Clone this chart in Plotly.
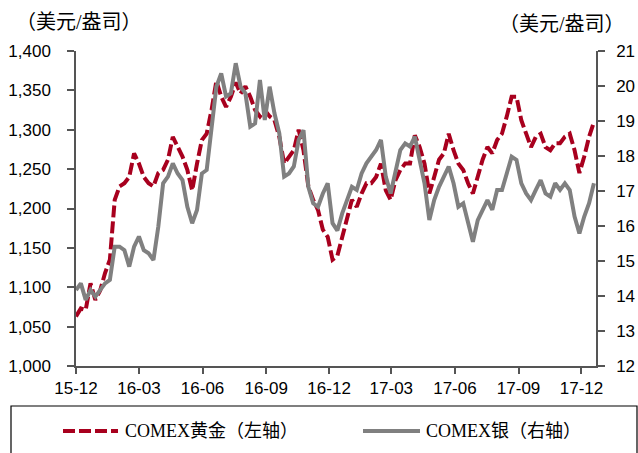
import pandas as pd
import plotly.graph_objects as go

# ---------------- data ----------------
week_dates = pd.date_range("2015-12-01", periods=108, freq="7D")

gold = [1063, 1073, 1071, 1105, 1084, 1096, 1118, 1135, 1211, 1228,
        1232, 1240, 1270, 1257, 1240, 1232, 1228, 1245, 1249, 1262,
        1291, 1278, 1266, 1249, 1223, 1257, 1287, 1295, 1325, 1362,
        1342, 1329, 1342, 1360, 1346, 1355, 1342, 1325, 1317, 1325,
        1317, 1312, 1291, 1257, 1266, 1274, 1300, 1274, 1228, 1211,
        1198, 1173, 1164, 1135, 1140, 1164, 1190, 1211, 1202, 1219,
        1232, 1232, 1240, 1257, 1223, 1211, 1236, 1249, 1257, 1257,
        1293, 1278, 1257, 1219, 1240, 1262, 1270, 1295, 1274, 1257,
        1249, 1232, 1219, 1240, 1262, 1278, 1270, 1287, 1295, 1317,
        1342, 1342, 1312, 1295, 1278, 1291, 1295, 1278, 1274, 1283,
        1283, 1291, 1295, 1274, 1245, 1266, 1291, 1310]

silver = [14.17, 14.36, 13.89, 14.17, 13.98, 14.17, 14.36, 14.46, 15.41, 15.41,
          15.31, 14.84, 15.41, 15.70, 15.31, 15.22, 15.03, 15.98, 17.22, 17.41,
          17.79, 17.50, 17.31, 16.55, 16.08, 16.46, 17.50, 17.60, 18.74, 19.98,
          20.36, 19.70, 19.79, 20.65, 19.98, 19.79, 18.84, 18.93, 20.17, 19.03,
          19.98, 19.22, 18.65, 17.41, 17.50, 17.70, 18.46, 18.74, 17.12, 16.65,
          16.55, 16.93, 17.22, 16.08, 15.87, 16.36, 16.74, 17.12, 17.03, 17.50,
          17.79, 17.98, 18.17, 18.46, 17.41, 16.93, 17.60, 18.17, 18.36, 18.27,
          18.55, 17.89, 17.22, 16.17, 16.74, 17.12, 17.41, 17.70, 17.22, 16.55,
          16.65, 16.10, 15.55, 16.17, 16.46, 16.74, 16.46, 17.03, 17.03, 17.50,
          17.98, 17.89, 17.22, 16.93, 16.74, 17.03, 17.31, 16.93, 16.84, 17.22,
          17.03, 17.22, 17.03, 16.27, 15.79, 16.27, 16.65, 17.22]

x_tick_dates = ["2015-12-01", "2016-03-01", "2016-06-01", "2016-09-01", "2016-12-01",
                "2017-03-01", "2017-06-01", "2017-09-01", "2017-12-01"]
x_tick_labels = ["15-12", "16-03", "16-06", "16-09", "16-12",
                 "17-03", "17-06", "17-09", "17-12"]
left_ticks = [1000, 1050, 1100, 1150, 1200, 1250, 1300, 1350, 1400]
right_ticks = list(range(12, 22))

gold_name = "COMEX黄金（左轴）"
silver_name = "COMEX银（右轴）"
unit = "（美元/盎司）"

# ---------------- style ----------------
RED = "#A8001E"
GRAY = "#808080"
AXIS = "#555555"
TICKFONT = dict(family="Liberation Sans, Arial, sans-serif", size=17, color="#000000")
CJKFONT = dict(family="Liberation Serif, Noto Sans CJK SC, serif", size=18, color="#000000")
DASH = "12px,4px"
LW = 4

fig = go.Figure()
fig.add_trace(go.Scatter(x=week_dates, y=gold, mode="lines", name=gold_name,
                         line=dict(color=RED, width=LW, dash=DASH), yaxis="y"))
fig.add_trace(go.Scatter(x=week_dates, y=silver, mode="lines", name=silver_name,
                         line=dict(color=GRAY, width=LW), yaxis="y2"))

fig.update_layout(
    width=638, height=453,
    margin=dict(l=76, r=42, t=51, b=87, autoexpand=False),
    paper_bgcolor="white", plot_bgcolor="white",
    showlegend=False,
    xaxis=dict(type="date", range=["2015-12-01", "2017-12-22"],
               tickvals=x_tick_dates, ticktext=x_tick_labels, automargin=False,
               showgrid=False, zeroline=False, showline=True, linecolor=AXIS, linewidth=1.5,
               ticks="outside", ticklen=6, tickcolor=AXIS, tickwidth=1.5,
               tickfont=TICKFONT),
    yaxis=dict(range=[1000, 1400], tickvals=left_ticks, tickformat=",d", automargin=False,
               showgrid=False, zeroline=False, showline=True, linecolor=AXIS, linewidth=1.5,
               ticks="outside", ticklen=7, tickcolor=AXIS, tickwidth=1.5,
               tickfont=TICKFONT, ticklabelstandoff=13),
    yaxis2=dict(range=[12, 21], tickvals=right_ticks, overlaying="y", side="right", automargin=False,
                showgrid=False, zeroline=False, showline=True, linecolor=AXIS, linewidth=1.5,
                ticks="outside", ticklen=7, tickcolor=AXIS, tickwidth=1.5,
                tickfont=TICKFONT, ticklabelstandoff=8),
)

W, H, L, R, T, B = 638, 453, 76, 42, 51, 87
pw, ph = W - L - R, H - T - B


def px(x):
    return (x - L) / pw


def py(y):
    return (H - B - y) / ph


annotations = [
    dict(text=unit, x=px(79), y=py(22), xref="paper", yref="paper",
         xanchor="center", yanchor="middle", showarrow=False, font=dict(CJKFONT, size=20)),
    dict(text=unit, x=px(562), y=py(24), xref="paper", yref="paper",
         xanchor="center", yanchor="middle", showarrow=False, font=dict(CJKFONT, size=20)),
    dict(text=gold_name, x=px(123), y=py(431), xref="paper", yref="paper",
         xanchor="left", yanchor="middle", showarrow=False, font=CJKFONT),
    dict(text=silver_name, x=px(424), y=py(431), xref="paper", yref="paper",
         xanchor="left", yanchor="middle", showarrow=False, font=CJKFONT),
]
shapes = [
    dict(type="rect", xref="paper", yref="paper", x0=px(11), x1=px(637), y0=py(460), y1=py(406),
         line=dict(color="#000000", width=1.2), fillcolor="rgba(0,0,0,0)"),
    dict(type="line", xref="paper", yref="paper", x0=px(63), x1=px(118), y0=py(431), y1=py(431),
         line=dict(color=RED, width=LW, dash=DASH)),
    dict(type="line", xref="paper", yref="paper", x0=px(363), x1=px(420), y0=py(431), y1=py(431),
         line=dict(color=GRAY, width=LW)),
]
fig.update_layout(annotations=annotations, shapes=shapes)

fig.write_html("out.html", config={"displayModeBar": False},
               post_script="document.body.style.margin='0';")
